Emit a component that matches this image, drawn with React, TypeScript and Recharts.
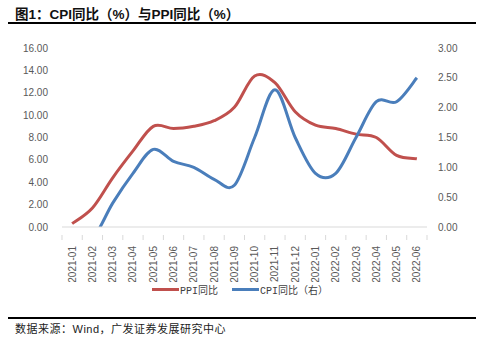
import React from "react";
import { ComposedChart, Line, XAxis, YAxis } from "recharts";

const months = [
  "2021-01", "2021-02", "2021-03", "2021-04", "2021-05", "2021-06",
  "2021-07", "2021-08", "2021-09", "2021-10", "2021-11", "2021-12",
  "2022-01", "2022-02", "2022-03", "2022-04", "2022-05", "2022-06",
];
const ppiYoY = [0.3, 1.7, 4.4, 6.8, 9.0, 8.8, 9.0, 9.5, 10.7, 13.5, 12.9, 10.3, 9.1, 8.8, 8.3, 8.0, 6.4, 6.1];
const cpiYoY = [-0.3, -0.2, 0.4, 0.9, 1.3, 1.1, 1.0, 0.8, 0.7, 1.5, 2.3, 1.5, 0.9, 0.9, 1.5, 2.1, 2.1, 2.5];
const leftTicks = [0, 2, 4, 6, 8, 10, 12, 14, 16];
const rightTicks = [0, 0.5, 1, 1.5, 2, 2.5, 3];

const series = [
  { key: "ppi", name: "PPI同比", color: "#C0504D", axis: "left" },
  { key: "cpi", name: "CPI同比（右）", color: "#4A7EBB", axis: "right" },
];

const data = months.map((m, i) => ({ month: m, ppi: ppiYoY[i], cpi: cpiYoY[i] }));

const W = 479;
const CHART_H = 282;
const MARGIN = { top: 48, right: 10, bottom: 5, left: 12 };
const LEFT_W = 50;
const RIGHT_W = 42;
const plotW = W - MARGIN.left - MARGIN.right - LEFT_W - RIGHT_W;
const band = plotW / months.length;

const AXIS_FONT = '"Liberation Sans", Arial, sans-serif';
const AXIS_COLOR = "#595959";

// Excel-style smoothed line (Catmull-Rom, tension 1/6)
const excelCurve = (context: any) => {
  let pts: [number, number][] = [];
  return {
    areaStart() {},
    areaEnd() {},
    lineStart() {
      pts = [];
    },
    lineEnd() {
      const n = pts.length;
      if (!n) return;
      context.moveTo(pts[0][0], pts[0][1]);
      for (let i = 0; i < n - 1; i++) {
        const p0 = pts[Math.max(i - 1, 0)];
        const p1 = pts[i];
        const p2 = pts[i + 1];
        const p3 = pts[Math.min(i + 2, n - 1)];
        context.bezierCurveTo(
          p1[0] + (p2[0] - p0[0]) / 6,
          p1[1] + (p2[1] - p0[1]) / 6,
          p2[0] - (p3[0] - p1[0]) / 6,
          p2[1] - (p3[1] - p1[1]) / 6,
          p2[0],
          p2[1]
        );
      }
    },
    point(x: number, y: number) {
      pts.push([+x, +y]);
    },
  };
};

const MonthTick = (props: any) => {
  const { x, y, payload, index } = props;
  const last = index === months.length - 1;
  return (
    <g transform={`translate(${x},${y})`}>
      <line x1={-band / 2} x2={-band / 2} y1={0} y2={5} stroke="#d9d9d9" />
      {last && <line x1={band / 2} x2={band / 2} y1={0} y2={5} stroke="#d9d9d9" />}
      <text
        transform="rotate(-90)"
        x={-11}
        y={0}
        dy={3.5}
        textAnchor="end"
        fontSize={10}
        fontFamily={AXIS_FONT}
        fill={AXIS_COLOR}
      >
        {payload.value}
      </text>
    </g>
  );
};

export default function App() {
  return (
    <div
      style={{
        position: "absolute",
        left: 0,
        top: 0,
        width: W,
        height: 340,
        background: "#fff",
        overflow: "hidden",
      }}
    >
      <ComposedChart width={W} height={CHART_H} data={data} margin={MARGIN}>
        <XAxis
          dataKey="month"
          interval={0}
          height={50}
          padding={{ left: band / 2, right: band / 2 }}
          stroke="#d9d9d9"
          tickLine={false}
          tick={<MonthTick />}
        />
        <YAxis
          yAxisId="left"
          orientation="left"
          width={LEFT_W}
          domain={[0, 16]}
          ticks={leftTicks}
          axisLine={false}
          tickLine={false}
          tickSize={0}
          tickMargin={14}
          tickFormatter={(v: number) => v.toFixed(2)}
          tick={{ fontSize: 10, fontFamily: AXIS_FONT, fill: AXIS_COLOR }}
        />
        <YAxis
          yAxisId="right"
          orientation="right"
          width={RIGHT_W}
          domain={[0, 3]}
          ticks={rightTicks}
          allowDataOverflow
          axisLine={false}
          tickLine={false}
          tickSize={0}
          tickMargin={11}
          tickFormatter={(v: number) => v.toFixed(2)}
          tick={{ fontSize: 10, fontFamily: AXIS_FONT, fill: AXIS_COLOR }}
        />
        {series.map((s) => (
          <Line
            key={s.key}
            yAxisId={s.axis}
            dataKey={s.key}
            name={s.name}
            type={excelCurve as any}
            stroke={s.color}
            strokeWidth={3}
            dot={false}
            activeDot={false}
            isAnimationActive={false}
          />
        ))}
      </ComposedChart>

      <div
        style={{
          position: "absolute",
          left: 15,
          top: 3,
          fontSize: 13.5,
          fontWeight: "bold",
          fontFamily: '"Liberation Sans", Arial, "Noto Sans CJK SC", sans-serif',
          color: "#111",
          whiteSpace: "nowrap",
        }}
      >
        图1：CPI同比（%）与PPI同比（%）
      </div>
      <div style={{ position: "absolute", left: 8, top: 22, width: 468, height: 2, background: "#000" }} />

      <div
        style={{
          position: "absolute",
          left: 152,
          top: 282,
          display: "flex",
          alignItems: "center",
          fontSize: 10,
          fontFamily: '"Liberation Mono", "Noto Sans CJK SC", monospace',
          color: "#404040",
          whiteSpace: "nowrap",
        }}
      >
        {series.map((s, i) => (
          <div key={s.key} style={{ display: "flex", alignItems: "center", marginLeft: i ? 14 : 0 }}>
            <div style={{ width: 27, height: 3, background: s.color, marginRight: 1 }} />
            <span>{s.name}</span>
          </div>
        ))}
      </div>

      <div style={{ position: "absolute", left: 8, top: 317, width: 468, height: 2, background: "#000" }} />
      <div
        style={{
          position: "absolute",
          left: 15,
          top: 320,
          fontSize: 11,
          letterSpacing: 0.5,
          fontFamily: '"Liberation Sans", Arial, "Noto Sans CJK SC", sans-serif',
          color: "#222",
          whiteSpace: "nowrap",
        }}
      >
        数据来源：Wind，广发证券发展研究中心
      </div>
    </div>
  );
}
